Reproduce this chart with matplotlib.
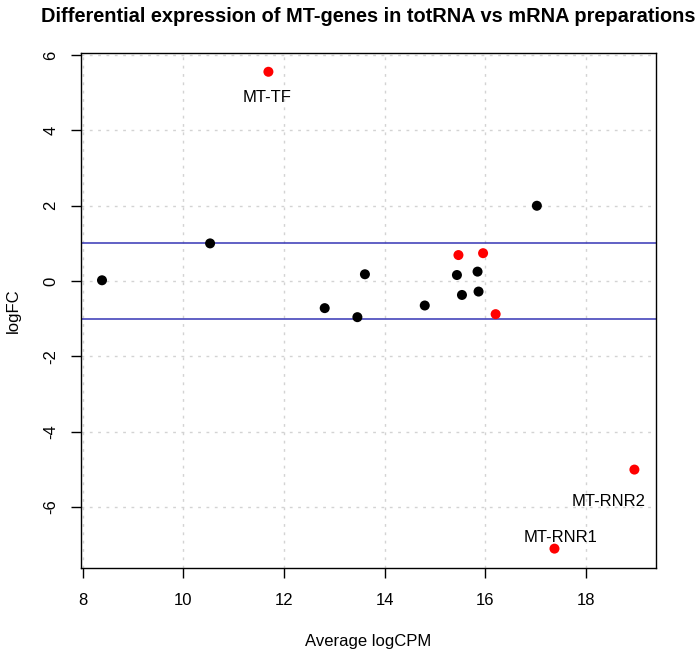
import matplotlib
matplotlib.use("Agg")
import matplotlib.pyplot as plt
import numpy as np

plt.rcParams['font.family'] = ['Liberation Sans', 'DejaVu Sans']

# Data
avg_logcpm = [8.38, 10.53, 11.69, 12.81, 13.46, 13.61, 14.80, 15.44, 15.47,
              15.54, 15.85, 15.87, 15.96, 16.21, 17.03, 18.97, 17.38]
logfc = [0.02, 1.00, 5.56, -0.72, -0.96, 0.18, -0.65, 0.16, 0.69,
         -0.37, 0.25, -0.28, 0.74, -0.88, 2.00, -5.01, -7.11]
significant = [False, False, True, False, False, False, False, False, True,
               False, False, False, True, True, False, True, True]
label_names = ["MT-TF", "MT-RNR2", "MT-RNR1"]
label_x = [11.69, 18.97, 17.38]
label_y = [5.56, -5.01, -7.11]
label_offsets = [(-1, -26), (-26, -32), (6, 11)]  # pixels
xticks = [8, 10, 12, 14, 16, 18]
yticks = [-6, -4, -2, 0, 2, 4, 6]
hlines = [1, -1]

W, H = 700, 652
fig = plt.figure(figsize=(W / 100, H / 100), dpi=100)
left, right, top, bottom = 80.7, 655.7, 52.7, 567.7
ax = fig.add_axes([left / W, 1 - bottom / H, (right - left) / W, (bottom - top) / H])

xa = np.array(avg_logcpm)
ya = np.array(logfc)
def rlim(v):
    lo, hi = v.min(), v.max()
    d = (hi - lo) * 0.04
    return lo - d, hi + d
ax.set_xlim(*rlim(xa))
ax.set_ylim(*rlim(ya))

# grid
for t in xticks:
    ax.axvline(t, color='#D3D3D3', lw=1, ls=(0, (2, 4)), zorder=0)
for t in yticks:
    ax.axhline(t, color='#D3D3D3', lw=1, ls=(0, (2, 4)), zorder=0)

for h in hlines:
    ax.axhline(h, color='#3535B5', lw=1.1, zorder=1)

cols = ['#FF0000' if s else 'black' for s in significant]
ax.scatter(xa, ya, c=cols, s=52, edgecolors='none', zorder=3)

for name, lx, ly, (dx, dy) in zip(label_names, label_x, label_y, label_offsets):
    ax.annotate(name, (lx, ly), xytext=(dx, dy), textcoords='offset pixels',
                ha='center', va='center', fontsize=12)

ax.set_xticks(xticks)
ax.set_yticks(yticks)
ax.set_xticklabels([str(t) for t in xticks])
ax.set_yticklabels([str(t) for t in yticks], rotation=90, va='center')
ax.tick_params(direction='out', length=7.2, width=1, labelsize=12)
ax.tick_params(axis='x', pad=11)
ax.tick_params(axis='y', pad=9)
for sp in ax.spines.values():
    sp.set_linewidth(1)
    sp.set_color('black')

ax.set_xlabel("Average logCPM", fontsize=12, labelpad=19)
ax.set_ylabel("logFC", fontsize=12, labelpad=16)
fig.text((left + right) / 2 / W, 1 - 16 / H,
         "Differential expression of MT-genes in totRNA vs mRNA preparations",
         ha='center', va='center', fontsize=14.4, fontweight='bold')

fig.savefig("out.png", dpi=100)
